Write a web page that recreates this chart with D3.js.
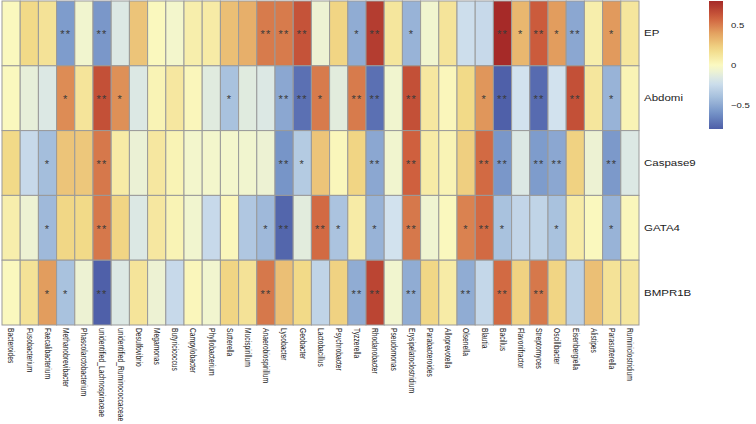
<!DOCTYPE html>
<html><head><meta charset="utf-8">
<script src="https://cdn.jsdelivr.net/npm/d3@7"></script>
<style>body{margin:0;background:#fff}svg{display:block}text{font-family:"Liberation Sans",Arial,sans-serif}</style>
</head><body><svg id="c" width="756" height="424"></svg>
<script>
const genera = ["Bacteroides","Fusobacterium","Faecalibacterium","Methanobrevibacter","Phascolarctobacterium","unidentified_Lachnospiraceae","unidentified_Ruminococcaceae","Desulfovibrio","Megamonas","Butyricicoccus","Campylobacter","Phyllobacterium","Sutterella","Mucispirillum","Anaerobiospirillum","Lysobacter","Geobacter","Lactobacillus","Psychrobacter","Tyzzerella","Rhodanobacter","Pseudomonas","Erysipelatoclostridium","Parabacteroides","Alloprevotella","Olsenella","Blautia","Bacillus","Flavonifractor","Streptomyces","Oscillibacter","Eisenbergiella","Alistipes","Parasutterella","Ruminiclostridium"];
const traits = ["EP","Abdomi","Caspase9","GATA4","BMPR1B"];

const valEP     = [0.02,0.2,0.15,-0.55,-0.05,-0.57,-0.15,0.28,0.02,-0.04,0.08,0.1,0.3,0.36, 0.52,0.52,0.65,-0.07,0.22,-0.48,0.73,0.13,-0.45,-0.05,0.14,-0.22,-0.25,0.8, 0.33,0.62,0.42,-0.5,0.08,0.43,0.13];
const valAbdomi = [0.02,-0.1,-0.15,0.47,0.14,0.66,0.46,-0.15,0.05,0.12,0.03,-0.13,-0.38,-0.13, -0.15,-0.5,-0.72,0.52,-0.12,0.52,-0.72,-0.05,0.66,0.12,0.03,0.2,0.44,-0.78, -0.2,-0.74,-0.2,0.66,0.13,-0.45,0.05];
const valCasp9  = [0.2,-0.25,-0.4,0.28,0.27,0.53,0.1,-0.08,0.12,0.05,-0.04,-0.04,-0.04,-0.05, -0.07,-0.58,-0.33,0.28,0.03,0.22,-0.5,-0.05,0.6,0.1,0.05,0.24,0.57,-0.57, -0.15,-0.55,-0.5,0.23,-0.07,-0.56,-0.15];
const valGATA4  = [0.08,-0.07,-0.42,0.21,0.2,0.53,0.22,-0.15,0.12,0.05,-0.05,-0.25,0.03,-0.35, -0.42,-0.76,-0.12,0.57,-0.37,0.1,-0.45,-0.2,0.53,-0.06,0.02,0.5,0.57,-0.38, -0.27,-0.28,-0.38,0.1,0.02,-0.45,0.03];
const valBMPR1B = [0.02,0.15,0.42,-0.38,-0.07,-0.78,-0.15,0.14,-0.07,-0.25,0.03,-0.05,0.22,0.15, 0.53,0.3,0.2,-0.28,0.23,-0.48,0.7,-0.05,-0.48,0.21,0.1,-0.48,-0.26,0.57, 0.23,0.53,0.22,-0.3,0.3,0.15,0.13];

const sigEP     = ["","","","**","","**","","","","","","","","", "**","**","**","","","*","**","","*","","","","","**", "*","**","*","**","","*",""];
const sigAbdomi = ["","","","*","","**","*","","","","","","*","", "","**","**","*","","**","**","","**","","","","*","**", "","**","","**","","*",""];
const sigCasp9  = ["","","*","","","**","","","","","","","","", "","**","*","","","","**","","**","","","","**","**", "","**","**","","","**",""];
const sigGATA4  = ["","","*","","","**","","","","","","","","", "*","**","","**","*","","*","","**","","","*","**","*", "","","*","","","*",""];
const sigBMPR1B = ["","","*","*","","**","","","","","","","","", "**","","","","","**","**","","**","","","**","","**", "","**","","","","",""];

const legendTicks = [-0.5, 0, 0.5];
const legendTickLabels = ["\u22120.5","0","0.5"];

const values = [valEP,valAbdomi,valCasp9,valGATA4,valBMPR1B];
const sigs = [sigEP,sigAbdomi,sigCasp9,sigGATA4,sigBMPR1B];

const cells = [];
traits.forEach((t,i)=>genera.forEach((g,j)=>cells.push({t,g,v:values[i][j],s:sigs[i][j]})));

const svg = d3.select("#c");
const x = d3.scaleBand().domain(genera).range([2,639]);
const y = d3.scaleBand().domain(traits).range([1,325]);
const stops = [-0.8,-0.6,-0.4,-0.2,0,0.2,0.4,0.6,0.8];
const cols  = ["#4B5BA6","#7290C6","#A4BEDC","#D2E2EE","#FBFBC4","#F2DA88","#E4A462","#CF603E","#A62A28"];
const color = d3.scaleLinear().domain(stops).range(cols).clamp(true);

svg.append("g").selectAll("rect").data(cells).join("rect")
  .attr("x",d=>x(d.g)).attr("y",d=>y(d.t))
  .attr("width",x.bandwidth()).attr("height",y.bandwidth())
  .attr("fill",d=>color(d.v)).attr("stroke","#9a9a9a").attr("stroke-width",1);

svg.append("g").selectAll("text").data(cells.filter(d=>d.s)).join("text")
  .attr("x",d=>x(d.g)+x.bandwidth()/2).attr("y",d=>y(d.t)+y.bandwidth()/2+5)
  .attr("text-anchor","middle").attr("font-size",11).attr("letter-spacing",1.2)
  .attr("fill","#3a3a3a").text(d=>d.s);

svg.append("g").selectAll("text").data(traits).join("text")
  .attr("transform",d=>`translate(644,${y(d)+y.bandwidth()/2}) scale(1,0.8)`)
  .attr("dominant-baseline","central").attr("font-size",11.5).attr("fill","#222")
  .text(d=>d);

svg.append("g").selectAll("text").data(genera).join("text")
  .attr("transform",d=>`translate(${x(d)+x.bandwidth()/2},328) rotate(90) scale(0.78,1)`)
  .attr("dominant-baseline","central").attr("font-size",8.6).attr("fill","#222")
  .text(d=>d);

// legend
const ly = d3.scaleLinear().domain([-0.79,0.81]).range([129,1]);
const defs = svg.append("defs");
const grad = defs.append("linearGradient").attr("id","lg").attr("x1",0).attr("x2",0).attr("y1",1).attr("y2",0);
d3.range(0,1.0001,0.05).forEach(f=>{
  const v = ly.domain()[0]+f*(ly.domain()[1]-ly.domain()[0]);
  grad.append("stop").attr("offset",f).attr("stop-color",color(v));
});
svg.append("rect").attr("x",709).attr("y",1).attr("width",14).attr("height",128).attr("fill","url(#lg)");
svg.append("g").selectAll("text").data(legendTicks).join("text")
  .attr("transform",(d)=>`translate(731,${ly(d)}) scale(1,0.8)`)
  .attr("dominant-baseline","central").attr("font-size",9.5).attr("fill","#222")
  .text((d,i)=>legendTickLabels[i]);
</script></body></html>
